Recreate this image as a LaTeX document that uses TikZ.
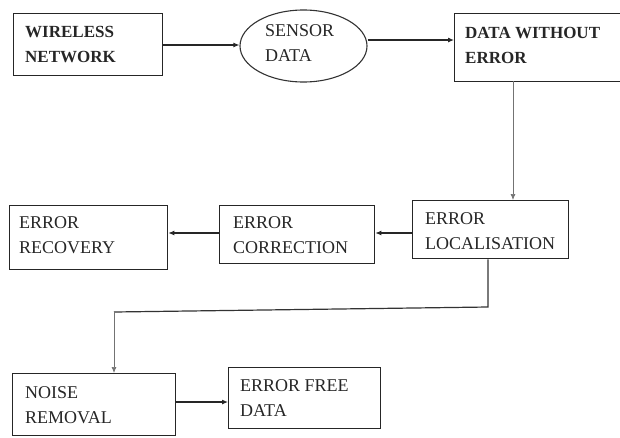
\documentclass[tikz,border=0pt]{standalone}
\usepackage{fontspec}
\setmainfont{Liberation Serif}
\usetikzlibrary{arrows.meta,shapes.geometric}
\begin{document}
\begin{tikzpicture}[x=1pt,y=-1pt,
  boxst/.style={draw=black!85,line width=1.3pt,rectangle,inner sep=0pt,anchor=north west},
  txt/.style={anchor=west,align=left,inner sep=0pt,font=\fontsize{18}{25}\selectfont,text=black!85},
  btxt/.style={txt,font=\bfseries\fontsize{17}{25}\selectfont},
  arr/.style={draw=black!85,line width=1.1pt,-{Latex[length=6pt,width=5pt]}},
  thinln/.style={draw=black!55,line width=0.7pt}]
\useasboundingbox (0,0) rectangle (620,437);
% boxes
\node[boxst,minimum width=149pt,minimum height=62pt] (wn) at (13,13) {};
\node[draw=black!80,line width=1.1pt,ellipse,minimum width=127pt,minimum height=72pt,inner sep=0pt] (sd) at (303.5,46) {};
\node[boxst,minimum width=170pt,minimum height=68pt] (dwe) at (454,13) {};
\node[boxst,minimum width=156pt,minimum height=58pt] (el) at (412,200) {};
\node[boxst,minimum width=155pt,minimum height=58pt] (ec) at (219,205) {};
\node[boxst,minimum width=158pt,minimum height=64pt] (er) at (9,205) {};
\node[boxst,minimum width=163pt,minimum height=62pt] (nr) at (12,373) {};
\node[boxst,minimum width=152pt,minimum height=61pt] (ef) at (228,367) {};
% texts
\node[btxt] (t1) at (25,44.5) {WIRELESS\\NETWORK};
\node[txt] (t2) at (265,43.5) {SENSOR\\DATA};
\node[btxt] (t3) at (465,45.5) {DATA WITHOUT\\ERROR};
\node[txt] (t4) at (425,231.5) {ERROR\\LOCALISATION};
\node[txt] (t5) at (233,235.5) {ERROR\\CORRECTION};
\node[txt] (t6) at (19,235.5) {ERROR\\RECOVERY};
\node[txt] (t7) at (25,405) {NOISE\\REMOVAL};
\node[txt] (t8) at (240,398.5) {ERROR FREE\\DATA};
% connectors
\draw[arr] (wn.east |- 0,45) -- (sd.west |- 0,45);
\draw[arr] (sd.east |- 0,40) -- (dwe.west |- 0,40);
\coordinate (c1) at (513,81);
\draw[thinln,-{Latex[length=6pt,width=5pt]}] (c1) -- (c1 |- el.north);
\draw[arr] (el.west |- 0,233) -- (ec.east |- 0,233);
\draw[arr] (ec.west |- 0,233) -- (er.east |- 0,233);
\coordinate (c2) at (488,307);
\coordinate (c3) at (114,312);
\draw[draw=black!80,line width=1.2pt] (el.south -| c2) -- (c2) -- (c3);
\draw[thinln,-{Latex[length=6pt,width=5pt]}] (c3) -- (c3 |- nr.north);
\draw[arr] (nr.east |- 0,402) -- (ef.west |- 0,402);
\end{tikzpicture}
\end{document}
